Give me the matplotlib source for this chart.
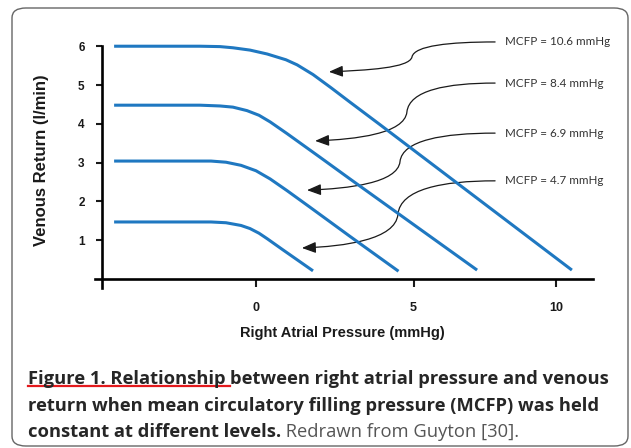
import numpy as np
import matplotlib.pyplot as plt
from matplotlib.patches import FancyArrowPatch, FancyBboxPatch
from matplotlib.path import Path
from matplotlib.lines import Line2D

# venous return curves (x = right atrial pressure mmHg, y = l/min)
rap_106 = [-4.73, -1.87, -1.2, -0.77, -0.2, 0.37, 1.0, 1.37, 1.9, 2.5, 3.13, 4.13, 10.53]
vr_106 = [6.0, 6.0, 5.99, 5.96, 5.9, 5.8, 5.65, 5.52, 5.27, 4.93, 4.56, 3.98, 0.23]
rap_84 = [-4.73, -1.87, -1.2, -0.77, -0.3, 0.1, 0.47, 1.03, 2.13, 3.13, 7.37]
vr_84 = [4.48, 4.48, 4.46, 4.43, 4.34, 4.22, 4.05, 3.75, 3.14, 2.58, 0.23]
rap_69 = [-4.73, -1.5, -1.0, -0.5, 0.0, 0.47, 1.03, 1.8, 3.13, 4.75]
vr_69 = [3.04, 3.04, 3.01, 2.93, 2.79, 2.58, 2.28, 1.85, 1.10, 0.20]
rap_47 = [-4.73, -1.5, -1.0, -0.5, -0.2, 0.1, 0.37, 0.9, 1.9]
vr_47 = [1.47, 1.47, 1.45, 1.38, 1.30, 1.18, 1.04, 0.75, 0.21]

mcfp_labels = ["MCFP = 10.6 mmHg", "MCFP = 8.4 mmHg", "MCFP = 6.9 mmHg", "MCFP = 4.7 mmHg"]
# arrow tail (at label) and head (pointing at curve), plus x of the S-bend
arrow_tail = [(7.97, 6.11), (7.97, 5.05), (7.97, 3.76), (7.97, 2.53)]
arrow_head = [(2.43, 5.34), (1.97, 3.56), (1.70, 2.29), (1.53, 0.80)]
arrow_bend = [5.2, 5.03, 4.8, 4.73]

xtick_pos = [0, 5.25, 10]
xtick_labels = ["0", "5", "10"]
ytick_pos = [1, 2, 3, 4, 5, 6]

W, H = 631, 448
fig = plt.figure(figsize=(W / 100, H / 100), dpi=100)

def fx(px):
    return px / W

def fy(py):
    return 1 - py / H

# rounded frame around figure + caption
frame = FancyBboxPatch((fx(12), fy(446)), fx(628) - fx(12), fy(8) - fy(446),
                       boxstyle="round,pad=0,rounding_size=0.022",
                       transform=fig.transFigure, fc="none", ec="#666666", lw=1.0)
fig.patches.append(frame)

ax = fig.add_axes([fx(95), fy(288), fx(595) - fx(95), fy(30) - fy(288)])
ax.set_xlim(-5.367, 11.3)
ax.set_ylim(-0.232, 6.418)
ax.patch.set_alpha(0)

blue = "#1f78c1"
for xs, ys in [(rap_106, vr_106), (rap_84, vr_84), (rap_69, vr_69), (rap_47, vr_47)]:
    ax.plot(xs, ys, color=blue, lw=2.2, solid_capstyle="butt", solid_joinstyle="round",
            clip_on=False)

# curved callout arrows: gentle arc, short steep wiggle, gentle arc into the head
for lab, (tx, ty), (hx, hy), bx in zip(mcfp_labels, arrow_tail, arrow_head, arrow_bend):
    ym = (ty + hy) / 2
    verts = [(tx, ty),
             (bx + 0.45 * (tx - bx), ty), (bx + 0.08, ty - 0.25 * (ty - ym)), (bx, ym),
             (bx - 0.08, ym - 0.75 * (ym - hy)), (hx + 0.45 * (bx - hx), hy + 0.04), (hx, hy)]
    codes = [Path.MOVETO] + [Path.CURVE4] * 6
    arr = FancyArrowPatch(path=Path(verts, codes),
                          arrowstyle="-|>,head_length=0.7,head_width=0.28",
                          mutation_scale=12, color="#1a1a1a", lw=0.9, clip_on=False)
    ax.add_patch(arr)
    ax.text(tx + 0.33, ty, lab, fontsize=8.4, family="Lato", color="#333333",
            va="center", ha="left")

for s in ["top", "right"]:
    ax.spines[s].set_visible(False)
ax.spines["left"].set_position(("data", -5.133))
ax.spines["left"].set_bounds(-0.232, 6.0)
ax.spines["bottom"].set_position(("data", 0))
ax.spines["bottom"].set_bounds(-5.367, 11.23)
for s in ["left", "bottom"]:
    ax.spines[s].set_linewidth(1.9)

ax.set_yticks(ytick_pos)
ax.set_xticks(xtick_pos)
ax.set_xticklabels(xtick_labels)
ax.tick_params(axis="y", length=4.5, width=1.5, pad=8, labelsize=8.5, colors="#1a1a1a")
ax.tick_params(axis="x", length=5.5, width=1.5, pad=11, labelsize=9, colors="#1a1a1a")
for t in ax.get_xticklabels() + ax.get_yticklabels():
    t.set_fontweight("bold")
    t.set_family("Liberation Sans")

fig.text(fx(42), fy(160), "Venous Return (l/min)", rotation=90, ha="center", va="center",
         fontsize=12, fontweight="bold", family="Liberation Sans", color="#1a1a1a")
fig.text(fx(342), fy(333), "Right Atrial Pressure (mmHg)", ha="center", va="center",
         fontsize=10.5, fontweight="bold", family="Liberation Sans", color="#1a1a1a")

# caption
cap_kw = dict(fontsize=13.2, family="Open Sans", color="#262626", va="baseline")
t1 = fig.text(fx(28), fy(384), "Figure 1. Relationship ", fontweight="bold", **cap_kw)
t1b = fig.text(0, 0, "between right atrial pressure and venous", fontweight="bold", **cap_kw)
fig.text(fx(28), fy(411), "return when mean circulatory filling pressure (MCFP) was held",
         fontweight="bold", **cap_kw)
t3 = fig.text(fx(28), fy(437), "constant at different levels.", fontweight="bold", **cap_kw)
t3b = fig.text(0, 0, " Redrawn from Guyton [30].", fontweight="normal",
               **dict(cap_kw, color="#555555"))

fig.canvas.draw()
r = fig.canvas.get_renderer()
b1 = t1.get_window_extent(r)
t1b.set_position((b1.x1 / W, fy(384)))
b3 = t3.get_window_extent(r)
t3b.set_position((b3.x1 / W, fy(437)))
fig.add_artist(Line2D([fx(28), b1.x1 / W], [fy(385.5), fy(385.5)],
                      transform=fig.transFigure, color="#e3191c", lw=1.6))

fig.savefig("out.png", dpi=100)
